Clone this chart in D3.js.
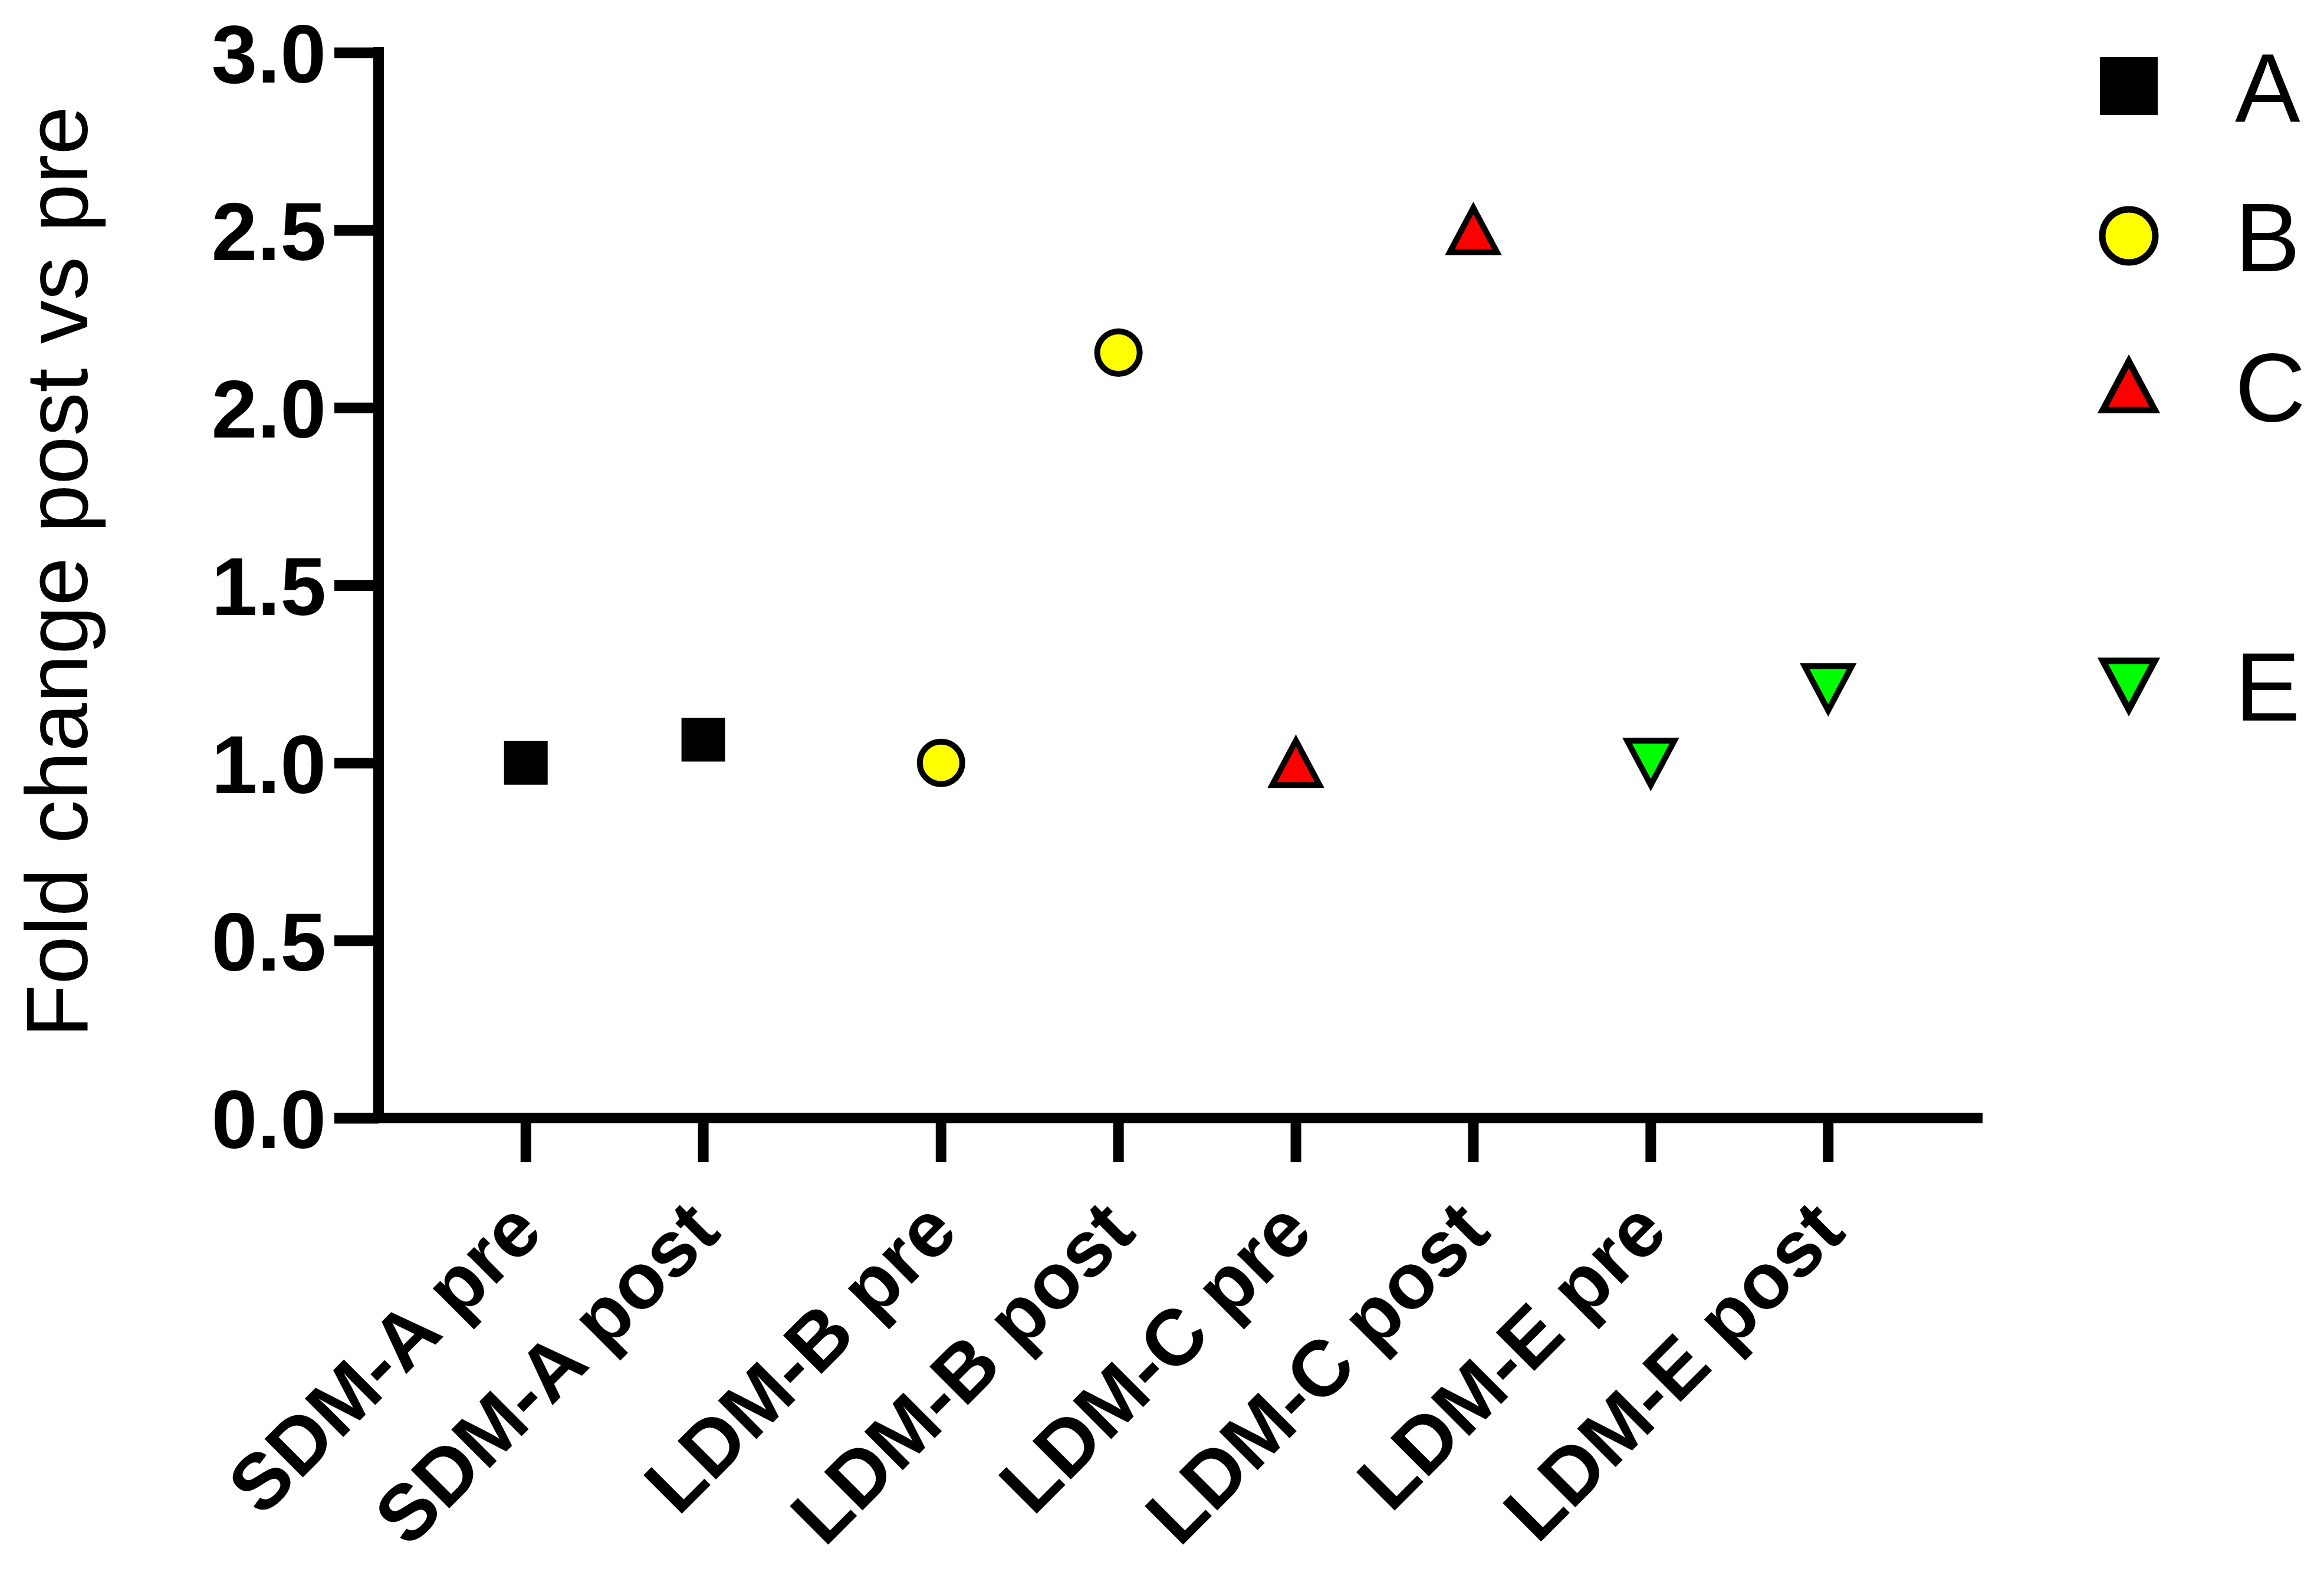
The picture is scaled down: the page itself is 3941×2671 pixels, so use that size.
<!DOCTYPE html>
<html>
<head>
<meta charset="utf-8">
<script src="https://cdn.jsdelivr.net/npm/d3@7"></script>
<style>
  body { margin: 0; background: #fff; }
  text { font-family: "Liberation Sans", Arial, sans-serif; fill: #000; }
</style>
</head>
<body>
<div id="chart"></div>
<script>
// categories on the x axis, in plotting order
const categories = ["SDM-A pre", "SDM-A post", "LDM-B pre", "LDM-B post",
                    "LDM-C pre", "LDM-C post", "LDM-E pre", "LDM-E post"]
// which series each category belongs to
const categorySeries = ["A", "A", "B", "B", "C", "C", "E", "E"]
// fold change values
const values = [1.0, 1.065, 1.0, 2.155, 1.0, 2.5, 1.0, 1.21]

// series / legend
const seriesNames = ["A", "B", "C", "E"]
const seriesColors = ["#000000", "#FFFF00", "#FF0000", "#00FF00"]
const seriesShapes = ["square", "circle", "triangleUp", "triangleDown"]
const legendSlots = [0, 1, 2, 4]   // D is absent, its row is left empty

const yTicks = [0, 0.5, 1.0, 1.5, 2.0, 2.5, 3.0]
const yTitle = "Fold change post vs pre"

const width = 3941
const height = 2671
const axisX = 642
const axisY = 1896
const axisTop = 89
const axisRight = 3362
const tickLen = 75
const lineW = 18

// the SDM group sits a little apart from the LDM groups
const groupGap = 0.34
const xPos = categories.map((c, i) => i + (i >= 2 ? groupGap : 0))

const x = d3.scaleLinear()
    .domain([-0.83, 8.21])
    .range([axisX, axisRight])

const y = d3.scaleLinear()
    .domain([0, 3])
    .range([axisY, axisTop])

const color = d3.scaleOrdinal().domain(seriesNames).range(seriesColors)
const shape = d3.scaleOrdinal().domain(seriesNames).range(seriesShapes)

// marker paths, centred on their bounding box
function markerPath(kind, s) {
    const p = d3.path()
    if (kind === "square") {
        p.rect(-s / 2, -s / 2, s, s)
    } else if (kind === "circle") {
        p.arc(0, 0, s / 2, 0, 2 * Math.PI)
    } else if (kind === "triangleUp") {
        p.moveTo(0, -s * 0.47); p.lineTo(s / 2, s * 0.47); p.lineTo(-s / 2, s * 0.47); p.closePath()
    } else {
        p.moveTo(0, s * 0.47); p.lineTo(s / 2, -s * 0.47); p.lineTo(-s / 2, -s * 0.47); p.closePath()
    }
    return p.toString()
}
const markerSize = { square: 74, circle: 72, triangleUp: 80, triangleDown: 80 }
const legendSize = { square: 98, circle: 90, triangleUp: 88, triangleDown: 88 }

const svg = d3.select("#chart").append("svg")
    .attr("width", width)
    .attr("height", height)
    .attr("viewBox", [0, 0, width, height])

svg.append("rect").attr("width", width).attr("height", height).attr("fill", "#fff")

// y axis with ticks and bold labels
svg.append("g")
    .attr("transform", `translate(${axisX},0)`)
    .call(d3.axisLeft(y).tickValues(yTicks).tickFormat(d3.format(".1f"))
        .tickSize(tickLen).tickSizeOuter(0).tickPadding(14))
    .call(g => g.select(".domain").remove())
    .call(g => g.selectAll(".tick line").attr("stroke", "#000").attr("stroke-width", lineW))
    .call(g => g.selectAll(".tick text")
        .attr("dy", "0.36em")
        .attr("font-size", 140)
        .attr("font-weight", "bold")
        .attr("font-family", "'Liberation Sans', Arial, sans-serif"))

// axis lines
svg.append("line")
    .attr("x1", axisX).attr("x2", axisX)
    .attr("y1", y(0)).attr("y2", y(3))
    .attr("stroke", "#000").attr("stroke-width", lineW).attr("stroke-linecap", "square")
svg.append("line")
    .attr("x1", axisX - tickLen).attr("x2", axisRight)
    .attr("y1", y(0)).attr("y2", y(0))
    .attr("stroke", "#000").attr("stroke-width", lineW)

// x ticks and rotated labels
const xt = svg.append("g")
xt.selectAll("line")
    .data(categories)
    .join("line")
    .attr("x1", (d, i) => x(xPos[i])).attr("x2", (d, i) => x(xPos[i]))
    .attr("y1", y(0)).attr("y2", y(0) + tickLen)
    .attr("stroke", "#000").attr("stroke-width", lineW)

const labelY = y(0) + 165
xt.selectAll("text")
    .data(categories)
    .join("text")
    .attr("x", (d, i) => x(xPos[i]))
    .attr("y", labelY)
    .attr("dy", "0.35em")
    .attr("transform", (d, i) => `rotate(-45,${x(xPos[i])},${labelY})`)
    .attr("text-anchor", "end")
    .attr("font-size", 134)
    .attr("font-weight", "bold")
    .text(d => d)

// y title
svg.append("text")
    .attr("transform", `translate(148,970) rotate(-90)`)
    .attr("text-anchor", "middle")
    .attr("font-size", 148)
    .text(yTitle)

// data points
svg.append("g")
    .selectAll("path")
    .data(values)
    .join("path")
    .attr("transform", (d, i) => `translate(${x(xPos[i])},${y(d)})`)
    .attr("d", (d, i) => {
        const k = shape(categorySeries[i])
        return markerPath(k, markerSize[k])
    })
    .attr("fill", (d, i) => color(categorySeries[i]))
    .attr("stroke", "#000")
    .attr("stroke-width", (d, i) => categorySeries[i] === "A" ? 0 : 10)
    .attr("stroke-linejoin", "miter")

// legend
const legendX = 3610
const legendY0 = 146
const legendStep = 254
const lg = svg.append("g")
    .selectAll("g")
    .data(seriesNames)
    .join("g")
    .attr("transform", (d, i) => `translate(${legendX},${legendY0 + legendSlots[i] * legendStep})`)

lg.append("path")
    .attr("d", d => markerPath(shape(d), legendSize[shape(d)]))
    .attr("fill", d => color(d))
    .attr("stroke", "#000")
    .attr("stroke-width", d => d === "A" ? 0 : 11)

lg.append("text")
    .attr("x", 180)
    .attr("dy", "0.36em")
    .attr("font-size", 166)
    .text(d => d)
</script>
</body>
</html>
